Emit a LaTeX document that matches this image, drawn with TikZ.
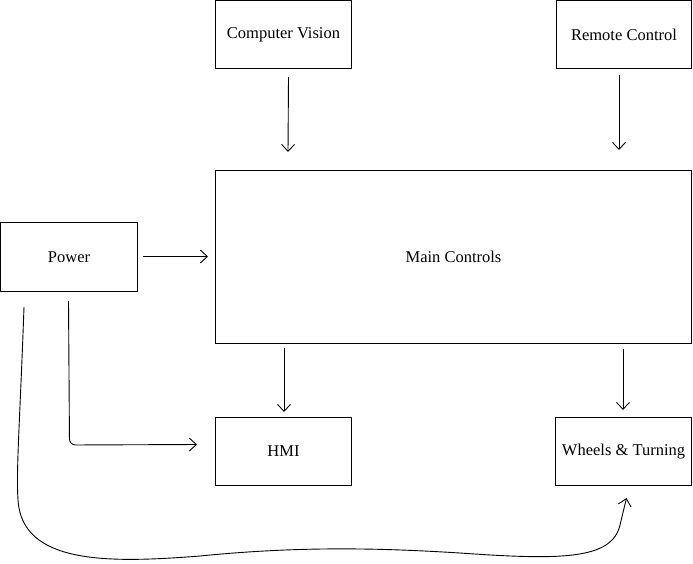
\documentclass[tikz,border=0pt]{standalone}
\usepackage{fontspec}
\setmainfont{Liberation Serif}
\usetikzlibrary{arrows.meta,calc}
\begin{document}
\begin{tikzpicture}[x=1pt,y=-1pt,
  blk/.style={draw,line width=1pt,inner sep=0pt,anchor=north west,font=\fontsize{16.5}{19}\selectfont},
  conn/.style={line width=0.9pt,-{Straight Barb[length=7pt,width=13pt,line width=0.9pt]}}]
\useasboundingbox (0,0) rectangle (693,563);
\node[blk,minimum width=136pt,minimum height=68pt] (cv) at (215,0) {Computer Vision};
\node[blk,minimum width=135pt,minimum height=68pt] (rc) at (556,0) {Remote Control};
\node[blk,minimum width=476pt,minimum height=173pt] (mc) at (215,170) {Main Controls};
\node[blk,minimum width=137pt,minimum height=69pt] (pw) at (0,222) {Power};
\node[blk,minimum width=136pt,minimum height=68pt] (hmi) at (215,417) {HMI};
\node[blk,minimum width=136pt,minimum height=68pt] (wt) at (555,417) {Wheels \& Turning};
\draw[conn] ($(cv.south)+(5,8)$) -- ($(mc.north west)+(73,-18)$);
\draw[conn] ($(rc.south)+(-5,6)$) -- ($(mc.north east)+(-73,-20)$);
\draw[conn] ($(pw.east)+(5,-0.5)$) -- ($(mc.west)+(-7,-0.5)$);
\draw[conn] ($(mc.south west)+(69,4)$) -- ($(hmi.north west)+(69,-5)$);
\draw[conn] ($(mc.south east)+(-69,5)$) -- ($(wt.north east)+(-69,-7)$);
\draw[conn,rounded corners=6pt] ($(pw.south)+(-0.5,9)$) -- ($(pw.south)+(0.5,153)$) -- ($(hmi.west)+(-18,-7)$);
\draw[conn] ($(pw.south west)+(24,15)$) .. controls (20,420) and (16,470) .. (18,500)
  .. controls (22,565) and (110,563) .. (200,556)
  .. controls (300,546) and (380,548) .. (460,553)
  .. controls (560,560) and (612,560) .. (620,525)
  -- ($(wt.south)+(3,12)$);
\end{tikzpicture}
\end{document}
